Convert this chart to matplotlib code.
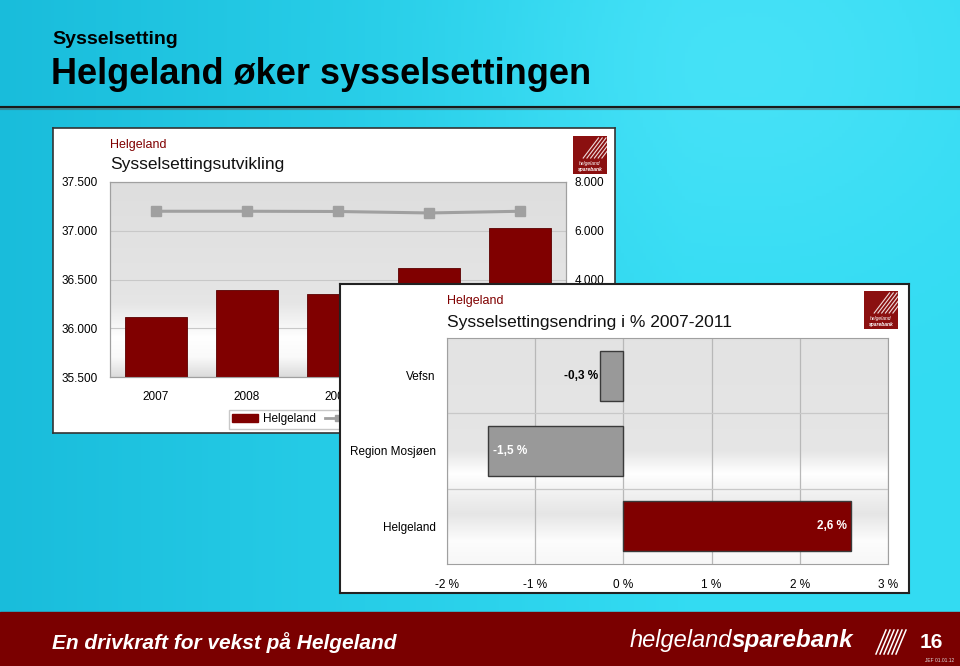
import numpy as np
import matplotlib.pyplot as plt
import matplotlib.patches as mpatches
from matplotlib.lines import Line2D
from matplotlib.ticker import FuncFormatter, FixedLocator

# --- data -------------------------------------------------------------
years = ['2007', '2008', '2009', '2010', '2011']
helgeland_emp = [36115, 36395, 36350, 36620, 37025]   # left axis (bars)
vefsn_emp = [6800, 6800, 6790, 6730, 6800]           # right axis (line)

regions = ['Vefsn', 'Region Mosjøen', 'Helgeland']
change_pct = [-0.26, -1.53, 2.58]

W, H = 960, 666
RED = '#800000'
FONT = ['Liberation Sans', 'DejaVu Sans']
plt.rcParams['font.family'] = FONT

fig = plt.figure(figsize=(W / 100, H / 100), dpi=100)


def box(x0, y0, x1, y1):
    # pixel box (top-left origin) -> figure fraction rect
    return [x0 / W, 1 - y1 / H, (x1 - x0) / W, (y1 - y0) / H]


def vgrad(ax, stops, cols):
    # vertical gray/white gradient behind a plot area
    t = np.linspace(0, 1, 200)
    g = np.interp(t, stops, cols)
    img = np.dstack([g, g, g])[:, None, :].reshape(200, 1, 3)
    ax.imshow(img, extent=[0, 1, 0, 1], transform=ax.transAxes,
              aspect='auto', zorder=0, interpolation='bilinear')


def logo(x0, y0, x1, y1, z):
    lax = fig.add_axes(box(x0, y0, x1, y1), zorder=z)
    lax.set_xlim(0, 1)
    lax.set_ylim(0, 1)
    lax.axis('off')
    lax.add_patch(mpatches.Rectangle((0, 0), 1, 1, color='#8b1010'))
    for k in range(6):
        s = 0.30 + k * 0.11
        lax.plot([s, s + 0.45], [0.42, 0.95], color='white', lw=0.8, alpha=0.85)
    lax.text(0.5, 0.27, 'helgeland', color='white', fontsize=3.6,
             style='italic', ha='center', va='center')
    lax.text(0.5, 0.12, 'sparebank', color='white', fontsize=3.6,
             style='italic', fontweight='bold', ha='center', va='center')


# --- slide background ---------------------------------------------------
bg = fig.add_axes([0, 0, 1, 1], zorder=-10)
bg.axis('off')
xx = np.linspace(0, 1, 300)
yy = np.linspace(0, 1, 200)
X, Y = np.meshgrid(xx, yy)
c0 = np.array([0.10, 0.74, 0.86])
c1 = np.array([0.20, 0.86, 0.95])
c2 = np.array([0.32, 0.90, 0.98])
w = np.clip(X * 1.4, 0, 1)[..., None]
img = c0 * (1 - w) + c1 * w
spot = np.exp(-(((X - 0.78) / 0.25) ** 2 + ((Y - 0.1) / 0.3) ** 2))[..., None]
img = img * (1 - 0.6 * spot) + c2 * 0.6 * spot
bg.imshow(img, extent=[0, 1, 0, 1], aspect='auto', origin='upper')
bg.set_xlim(0, 1)
bg.set_ylim(0, 1)
bg.plot([0, 1], [1 - 108 / H, 1 - 108 / H], color='#555555', lw=3, alpha=0.5)
bg.plot([0, 1], [1 - 107 / H, 1 - 107 / H], color='#1a1a1a', lw=1.5)
bg.add_patch(mpatches.Rectangle((0, 0), 1, 1 - 612 / H, color='#7a0000'))

fig.text(52 / W, 1 - 40 / H, 'Sysselsetting', fontsize=14,
         fontweight='bold', va='center', color='black')
fig.text(51 / W, 1 - 75 / H, 'Helgeland øker sysselsettingen',
         fontsize=26, fontweight='bold', va='center', color='black')

# footer
fig.text(52 / W, 1 - 643 / H, 'En drivkraft for vekst på Helgeland',
         fontsize=15, fontweight='bold', style='italic', color='white', va='center')
fig.text(630 / W, 1 - 641 / H, 'helgeland', fontsize=17,
         style='italic', color='white', va='center')
fig.text(732 / W, 1 - 641 / H, 'sparebank', fontsize=17.5,
         style='italic', fontweight='bold', color='white', va='center')
for k in range(6):
    x = (876 + k * 4) / W
    bg.plot([x, x + 10 / W], [1 - 654 / H, 1 - 630 / H], color='white', lw=1.1)
fig.text(920 / W, 1 - 642 / H, '16', fontsize=15,
         fontweight='bold', color='white', va='center')
fig.text(925 / W, 1 - 661 / H, 'JEF 01.01.12', fontsize=3.5, color='#dddddd', va='center')

# --- chart 1: Sysselsettingsutvikling ------------------------------------
p1 = fig.add_axes(box(53, 128, 615, 433), zorder=1)
p1.set_xticks([])
p1.set_yticks([])
p1.set_facecolor('white')
for s in p1.spines.values():
    s.set_color('#333333')
    s.set_linewidth(1.2)

ax1 = fig.add_axes(box(110, 182, 566, 377), zorder=2)
vgrad(ax1, [0, 0.62, 0.80, 0.90, 1.0], [0.87, 0.90, 1.0, 0.98, 0.86])
xpos = np.arange(len(years))
ax1.bar(xpos, helgeland_emp, width=0.68, color=RED, edgecolor='#5a0000',
        linewidth=0.6, zorder=3)
ax1.set_xlim(-0.5, len(years) - 0.5)
ax1.set_ylim(35500, 37500)
ax1.set_yticks([35500, 36000, 36500, 37000, 37500])
thou = FuncFormatter(lambda v, p: f'{int(v):,}'.replace(',', '.'))
ax1.yaxis.set_major_formatter(thou)
ax1.set_xticks(xpos)
ax1.set_xticklabels(years)
ax1.tick_params(length=0, labelsize=8.5, pad=9)
ax1.tick_params(axis='x', pad=10)
ax1.grid(axis='y', color='#c8c8c8', lw=0.8, zorder=1)
for s in ax1.spines.values():
    s.set_color('#a0a0a0')

ax1r = ax1.twinx()
ax1r.plot(xpos, vefsn_emp, color='#a0a0a0', lw=2.2, marker='s', markersize=7,
          markerfacecolor='#a0a0a0', markeredgecolor='#a0a0a0', zorder=4)
ax1r.set_ylim(0, 8000)
# lower right-axis labels (2.000, 0) sit behind the second chart
ax1r.set_yticks([4000, 6000, 8000])
ax1r.yaxis.set_major_formatter(thou)
ax1r.tick_params(length=0, labelsize=8.5, pad=6)
for s in ax1r.spines.values():
    s.set_color('#a0a0a0')

handles = [mpatches.Patch(color=RED, label='Helgeland'),
           Line2D([], [], color='#a0a0a0', lw=2, marker='s', markersize=4,
                  label='Vefsn')]
ax1r.legend(handles=handles, loc='upper left', ncol=2, fontsize=8.5,
            bbox_to_anchor=(223 / W, 1 - 404 / H), bbox_transform=fig.transFigure,
            frameon=True, fancybox=False, edgecolor='#bbbbbb', borderpad=0.3,
            handlelength=2.2, columnspacing=0.8, handletextpad=0.4)

fig.text(110 / W, 1 - 145 / H, 'Helgeland', color=RED, fontsize=9, va='center', zorder=3)
fig.text(110 / W, 1 - 165 / H, 'Sysselsettingsutvikling', color='#111111',
         fontsize=12.5, va='center', zorder=3)
logo(573, 136, 607, 174, 3)

# --- chart 2: Sysselsettingsendring i % ----------------------------------
p2 = fig.add_axes(box(340, 284, 909, 593), zorder=10)
p2.set_xticks([])
p2.set_yticks([])
p2.set_facecolor('white')
for s in p2.spines.values():
    s.set_color('#222222')
    s.set_linewidth(1.5)

ax2 = fig.add_axes(box(447, 338, 888, 564), zorder=11)
vgrad(ax2, [0, 0.50, 0.60, 0.68, 0.78, 0.90, 1.0],
      [0.89, 0.90, 1.0, 0.95, 0.90, 0.99, 0.97])
ypos = np.arange(len(regions))
bar_cols = ['#999999', '#999999', RED]
ax2.barh(ypos, change_pct, height=0.66, color=bar_cols, edgecolor='#3a3a3a',
         linewidth=1.0, zorder=3)
ax2.set_xlim(-2, 3)
ax2.set_ylim(len(regions) - 0.5, -0.5)
ax2.set_xticks([-2, -1, 0, 1, 2, 3])
ax2.xaxis.set_major_formatter(FuncFormatter(lambda v, p: f'{int(v)} %'))
ax2.set_yticks(ypos)
ax2.set_yticklabels(regions)
ax2.yaxis.set_minor_locator(FixedLocator([0.5, 1.5]))
ax2.tick_params(which='both', length=0, labelsize=8.5)
ax2.tick_params(axis='y', pad=8)
ax2.tick_params(axis='x', pad=11)
ax2.grid(axis='x', which='major', color='#b8b8b8', lw=0.9, zorder=1)
ax2.grid(axis='y', which='minor', color='#c8c8c8', lw=0.9, zorder=1)
for s in ax2.spines.values():
    s.set_color('#a0a0a0')

for i, v in enumerate(change_pct):
    lab = f'{v:.1f} %'.replace('.', ',')
    if i == 0:
        ax2.text(v - 0.03, i, lab, ha='right', va='center', fontsize=8.5,
                 fontweight='bold', color='black', zorder=4)
    elif v < 0:
        ax2.text(v + 0.05, i, lab, ha='left', va='center', fontsize=8.5,
                 fontweight='bold', color='white', zorder=4)
    else:
        ax2.text(v - 0.05, i, lab, ha='right', va='center', fontsize=8.5,
                 fontweight='bold', color='white', zorder=4)

fig.text(447 / W, 1 - 301 / H, 'Helgeland', color=RED, fontsize=9, va='center', zorder=12)
fig.text(447 / W, 1 - 322 / H, 'Sysselsettingsendring i % 2007-2011', color='#111111',
         fontsize=12.5, va='center', zorder=12)
logo(864, 291, 898, 329, 12)

fig.savefig('out.png', dpi=100)
